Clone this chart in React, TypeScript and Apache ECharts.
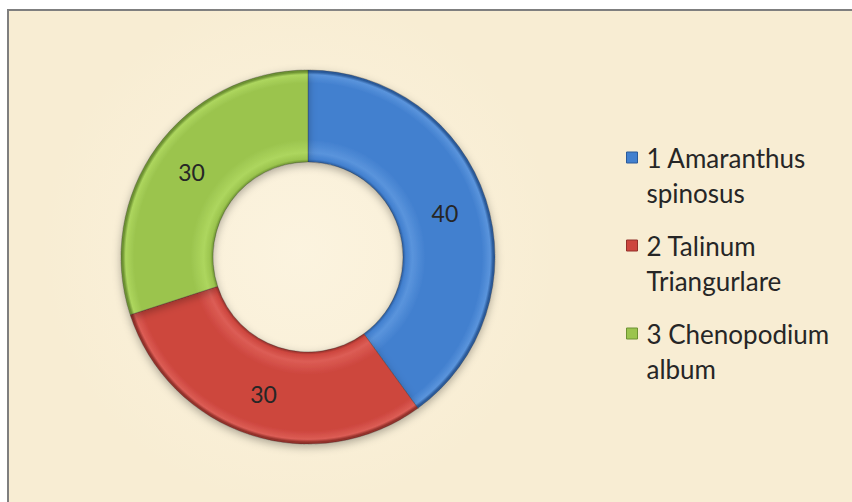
import React, { useEffect, useRef } from 'react';
import * as echarts from 'echarts';

const categories = ['1 Amaranthus\nspinosus', '2 Talinum\nTriangurlare', '3 Chenopodium\nalbum'];
const values = [40, 30, 30];
const baseColors = ['#4280cf', '#cd463e', '#9bc44e'];
const lightColors = ['#5a94dc', '#dc5d55', '#add65e'];
const darkColors = ['#2a5a9a', '#93302a', '#6d9232'];

const CX = 308;
const CY = 257;
const R0 = 95;
const R1 = 187;

function bevel(i: number) {
  const t0 = R0 / R1;
  return {
    type: 'radial',
    x: CX,
    y: CY,
    r: R1,
    global: true,
    colorStops: [
      { offset: 0, color: darkColors[i] },
      { offset: t0, color: darkColors[i] },
      { offset: t0 + 0.015, color: baseColors[i] },
      { offset: t0 + 0.05, color: lightColors[i] },
      { offset: t0 + 0.12, color: baseColors[i] },
      { offset: 0.93, color: baseColors[i] },
      { offset: 0.975, color: lightColors[i] },
      { offset: 0.99, color: darkColors[i] },
      { offset: 1, color: darkColors[i] },
    ],
  };
}

export default function App() {
  const ref = useRef<HTMLDivElement>(null);
  useEffect(() => {
    document.body.style.margin = '0';
    const chart = echarts.init(ref.current!, undefined, { renderer: 'svg' });
    chart.setOption({
      animation: false,
      backgroundColor: '#ffffff',
      graphic: [
        {
          type: 'rect',
          z: -10,
          silent: true,
          shape: { x: 8, y: 10, width: 900, height: 600 },
          style: { fill: '#f8edd3', stroke: '#7f7f7f', lineWidth: 2 },
        },
        {
          type: 'circle',
          z: -9,
          silent: true,
          shape: { cx: 300, cy: 250, r: 260 },
          style: {
            fill: {
              type: 'radial', x: 0.5, y: 0.5, r: 0.5,
              colorStops: [
                { offset: 0, color: 'rgba(253,246,228,0.7)' },
                { offset: 1, color: 'rgba(253,246,228,0)' },
              ],
            },
          },
        },
      ],
      legend: {
        orient: 'vertical',
        left: 621,
        top: 100,
        itemWidth: 11,
        itemHeight: 11,
        itemGap: -17,
        icon: 'rect',
        selectedMode: false,
        formatter: (name: string) => '\n' + name,
        textStyle: {
          fontFamily: 'Lato',
          fontSize: 26,
          color: '#262626',
          lineHeight: 35,
          padding: [0, 0, 0, 4],
        },
        data: categories.map((name, i) => ({
          name,
          itemStyle: { color: baseColors[i], borderColor: darkColors[i], borderWidth: 1 },
        })),
      },
      series: [
        {
          type: 'pie',
          center: [CX, CY],
          radius: [R0, R1],
          startAngle: 90,
          clockwise: true,
          avoidLabelOverlap: false,
          label: {
            show: true,
            position: 'inside',
            formatter: '{c}',
            fontFamily: 'Lato',
            fontSize: 23,
            color: '#262626',
          },
          labelLine: { show: false },
          emphasis: { disabled: true },
          itemStyle: {
            borderWidth: 1,
            borderColor: 'rgba(40,40,40,0.3)',
            shadowBlur: 8,
            shadowOffsetY: 3,
            shadowColor: 'rgba(0,0,0,0.3)',
          },
          data: categories.map((name, i) => ({
            name,
            value: values[i],
            itemStyle: { color: bevel(i) },
          })),
        },
      ],
    });
    return () => chart.dispose();
  }, []);
  return <div ref={ref} style={{ position: 'fixed', left: 0, top: 0, width: 852, height: 502 }} />;
}
